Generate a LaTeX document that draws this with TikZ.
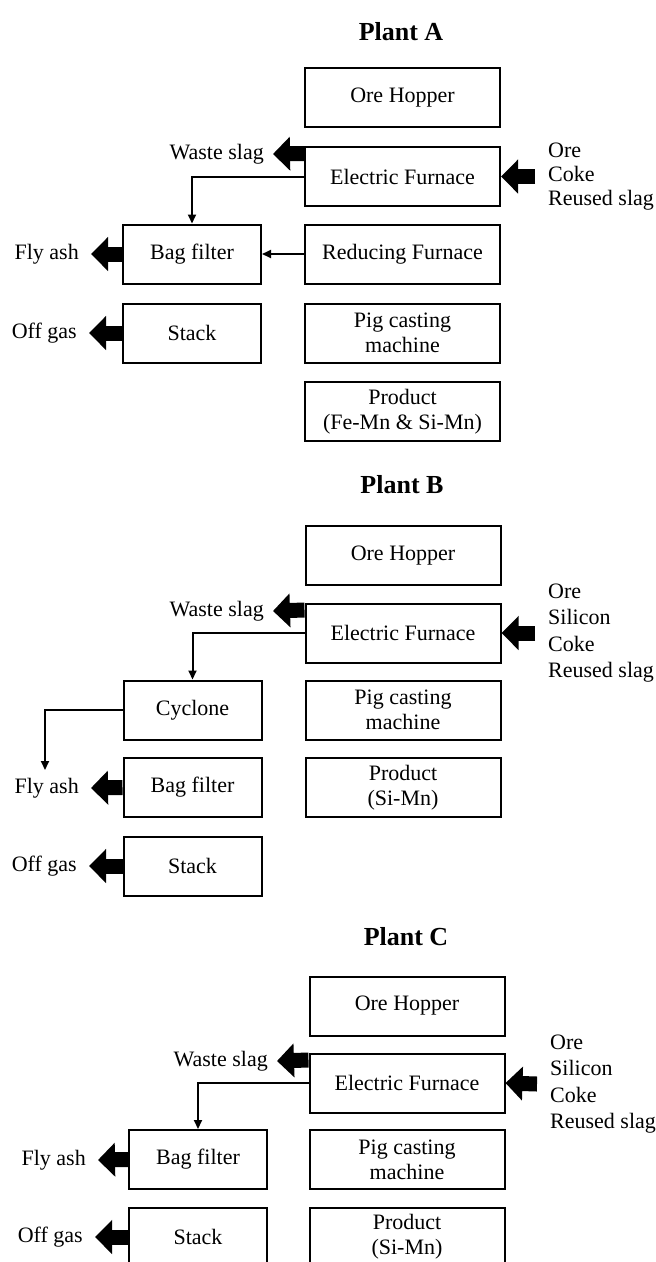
\documentclass[tikz,border=0pt]{standalone}
\usepackage{fontspec}
\setmainfont{Liberation Serif}
\usetikzlibrary{arrows.meta}
\begin{document}
\begin{tikzpicture}[x=1pt,y=-1pt,
  box/.style={draw,line width=2pt,minimum height=59pt,inner sep=0pt,align=center,font=\fontsize{22}{25}\selectfont},
  rbox/.style={box,minimum width=195pt},
  lbox/.style={box,minimum width=138pt},
  lbl/.style={inner ysep=0pt,inner xsep=9pt,font=\fontsize{22}{25}\selectfont},
  inlbl/.style={lbl,anchor=west,inner xsep=13pt,align=left},
  ttl/.style={font=\fontsize{26}{30}\selectfont\bfseries},
  fat/.style={line width=15pt,-{Triangle[length=17pt,width=33pt]}},
  flow/.style={line width=2pt,-{Triangle[length=9pt,width=8pt]}},
]
\useasboundingbox (0,0) rectangle (656,1262);
% ---------------- Plant A
\node[ttl] (tA) at (401,32) {Plant A};
\node[rbox] (ohA) at (402.5,97.5) {Ore Hopper};
\node[rbox] (efA) at (402.5,176.5) {Electric Furnace};
\node[rbox] (rfA) at (402.5,254) {Reducing Furnace};
\node[rbox] (pcA) at (402.5,333) {Pig casting\\machine};
\node[rbox] (prA) at (402.5,411.5) {Product\\(Fe-Mn \& Si-Mn)};
\node[lbox] (bfA) at (192,254) {Bag filter};
\node[lbox] (stA) at (192,333) {Stack};
\node[lbl,anchor=east] (wsA) at (273,154) {Waste slag};
\node[lbl,anchor=east,inner xsep=12pt] (faA) at (91,254) {Fly ash};
\node[lbl,anchor=east,inner xsep=12pt] (ogA) at (89,333) {Off gas};
\node[inlbl,font=\fontsize{22}{24}\selectfont] (inA) at (535,176.5) {Ore\\Coke\\Reused slag};
\draw[fat] ([yshift=-7.5pt]efA.north west) -- (wsA.east);
\draw[fat] (bfA.west) -- (faA.east);
\draw[fat] (stA.west) -- (ogA.east);
\draw[fat] (inA.west) -- (efA.east);
\draw[flow] (efA.west) -| (bfA.north);
\draw[flow] (rfA.west) -- (bfA.east);
% ---------------- Plant B
\node[ttl] (tB) at (402,485) {Plant B};
\node[rbox] (ohB) at (403,555.5) {Ore Hopper};
\node[rbox] (efB) at (403,633) {Electric Furnace};
\node[rbox] (pcB) at (403,710) {Pig casting\\machine};
\node[rbox] (prB) at (403,787.5) {Product\\(Si-Mn)};
\node[lbox] (cyB) at (192.5,710) {Cyclone};
\node[lbox] (bfB) at (192.5,787.5) {Bag filter};
\node[lbox] (stB) at (192.5,866) {Stack};
\node[lbl,anchor=east] (wsB) at (273,611) {Waste slag};
\node[lbl,anchor=east,inner xsep=12pt] (faB) at (91,788) {Fly ash};
\node[lbl,anchor=east,inner xsep=12pt] (ogB) at (89,866) {Off gas};
\node[inlbl,font=\fontsize{22}{26.3}\selectfont] (inB) at (535,633) {Ore\\Silicon\\Coke\\Reused slag};
\coordinate (flyinB) at (45,770);
\draw[fat] ([yshift=-7.5pt]efB.north west) -- (wsB.east);
\draw[fat] (bfB.west) -- (faB.east);
\draw[fat] (stB.west) -- (ogB.east);
\draw[fat] (inB.west) -- (efB.east);
\draw[flow] (efB.west) -| (cyB.north);
\draw[flow] (cyB.west) -| (flyinB);
% ---------------- Plant C
\node[ttl] (tC) at (406,937) {Plant C};
\node[rbox] (ohC) at (407,1006) {Ore Hopper};
\node[rbox] (efC) at (407,1083) {Electric Furnace};
\node[rbox] (pcC) at (407,1159.5) {Pig casting\\machine};
\node[rbox] (prC) at (407,1237) {Product\\(Si-Mn)};
\node[lbox] (bfC) at (198,1159.5) {Bag filter};
\node[lbox] (stC) at (198,1237) {Stack};
\node[lbl,anchor=east] (wsC) at (277,1061) {Waste slag};
\node[lbl,anchor=east,inner xsep=12pt] (faC) at (98,1160) {Fly ash};
\node[lbl,anchor=east,inner xsep=12pt] (ogC) at (95,1237) {Off gas};
\node[inlbl,font=\fontsize{22}{26.3}\selectfont] (inC) at (537,1084) {Ore\\Silicon\\Coke\\Reused slag};
\draw[fat] ([yshift=-7.5pt]efC.north west) -- (wsC.east);
\draw[fat] (bfC.west) -- (faC.east);
\draw[fat] (stC.west) -- (ogC.east);
\draw[fat] (inC.west) -- (efC.east);
\draw[flow] (efC.west) -| (bfC.north);
\end{tikzpicture}
\end{document}
